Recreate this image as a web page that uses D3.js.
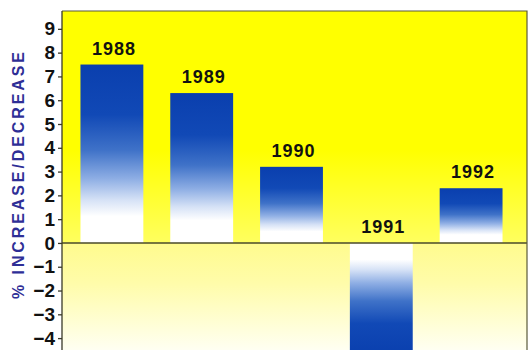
<!DOCTYPE html>
<html>
<head>
<meta charset="utf-8">
<script src="https://cdn.jsdelivr.net/npm/d3@7"></script>
<style>
  html, body { margin: 0; padding: 0; background: #ffffff; }
  svg { display: block; }
</style>
</head>
<body>
<svg id="chart" width="532" height="350"></svg>
<script>
// Annual percentage change, 1988–1992
const years = ["1988", "1989", "1990", "1991", "1992"];
const changes = [7.5, 6.3, 3.2, -4.7, 2.3];
const tickValues = [-4, -3, -2, -1, 0, 1, 2, 3, 4, 5, 6, 7, 8, 9];
const axisTitle = "% INCREASE/DECREASE";

const plot = { left: 62, top: 11, right: 527, bottom: 350 };

const svg = d3.select("#chart");
const defs = svg.append("defs");

const y = d3.scaleLinear().domain([-4.5, 9.75]).range([plot.bottom, plot.top]);
const zeroFrac = (y(0) - plot.top) / (plot.bottom - plot.top);

// Background wash: bright yellow on top, fading to pale cream below zero
const bg = defs.append("linearGradient")
  .attr("id", "bgGrad").attr("x1", 0).attr("y1", 0).attr("x2", 0).attr("y2", 1);
[
  [0, "#ffff00"],
  [zeroFrac * 0.6, "#ffff00"],
  [zeroFrac - 0.002, "#ffff5e"],
  [zeroFrac + 0.002, "#fffb8e"],
  [zeroFrac + 0.12, "#fffcaa"],
  [1, "#fffff2"]
].forEach(([o, c]) => bg.append("stop").attr("offset", o).attr("stop-color", c));

// Bar fills: deep blue at the far end, white at the zero line
function barGradient(id, reversed) {
  const g = defs.append("linearGradient")
    .attr("id", id).attr("x1", 0).attr("y1", reversed ? 1 : 0).attr("x2", 0).attr("y2", reversed ? 0 : 1);
  [
    [0, "#0a3fae"],
    [0.28, "#1149b6"],
    [0.48, "#3f72c8"],
    [0.64, "#8eaee4"],
    [0.76, "#d6e2f6"],
    [0.85, "#ffffff"],
    [1, "#ffffff"]
  ].forEach(([o, c]) => g.append("stop").attr("offset", o).attr("stop-color", c));
}
barGradient("posGrad", false);
barGradient("negGrad", true);

defs.append("clipPath").attr("id", "plotClip")
  .append("rect")
  .attr("x", plot.left).attr("y", plot.top)
  .attr("width", plot.right - plot.left).attr("height", plot.bottom - plot.top);

svg.append("rect")
  .attr("x", plot.left).attr("y", plot.top)
  .attr("width", plot.right - plot.left).attr("height", plot.bottom - plot.top)
  .attr("fill", "url(#bgGrad)");

const x = d3.scaleBand()
  .domain(years)
  .range([67, 516])
  .paddingInner(0.3)
  .paddingOuter(0.15);

const data = years.map((yr, i) => ({ year: yr, value: changes[i] }));

// Bars
svg.append("g").attr("clip-path", "url(#plotClip)")
  .selectAll("rect")
  .data(data)
  .join("rect")
  .attr("x", d => x(d.year))
  .attr("width", x.bandwidth())
  .attr("y", d => y(Math.max(0, d.value)))
  .attr("height", d => Math.abs(y(d.value) - y(0)))
  .attr("fill", d => d.value >= 0 ? "url(#posGrad)" : "url(#negGrad)");

// Zero line
svg.append("line")
  .attr("x1", plot.left).attr("x2", plot.right)
  .attr("y1", y(0)).attr("y2", y(0))
  .attr("stroke", "#4a4a2a").attr("stroke-width", 1.4);

// Frame: top and right edges
svg.append("path")
  .attr("d", `M${plot.left},${plot.top}H${plot.right}V${plot.bottom}`)
  .attr("fill", "none")
  .attr("stroke", "#5a5a3a")
  .attr("stroke-width", 1.2);

// Year labels above the zero line
svg.append("g")
  .selectAll("text")
  .data(data)
  .join("text")
  .attr("x", d => x(d.year) + x.bandwidth() / 2 + 2)
  .attr("y", d => y(Math.max(0, d.value)) - 10)
  .attr("text-anchor", "middle")
  .attr("font-family", "'Liberation Sans', Arial, sans-serif")
  .attr("font-weight", "bold")
  .attr("font-size", 18)
  .attr("letter-spacing", 1)
  .attr("fill", "#111")
  .text(d => d.year);

// Y axis
const yAxis = d3.axisLeft(y)
  .tickValues(tickValues)
  .tickFormat(d3.format("d"))
  .tickSize(4)
  .tickPadding(3);

const gy = svg.append("g")
  .attr("transform", `translate(${plot.left},0)`)
  .call(yAxis);
gy.select(".domain")
  .attr("d", `M0,${plot.top}V${plot.bottom}`)
  .attr("stroke", "#3a3a2a").attr("stroke-width", 1.3);
gy.selectAll(".tick line").attr("stroke", "#3a3a2a").attr("stroke-width", 1.3);
gy.selectAll(".tick text")
  .attr("font-family", "'Liberation Sans', Arial, sans-serif")
  .attr("font-weight", "bold")
  .attr("font-size", 19)
  .attr("fill", "#111");

// Axis title
svg.append("text")
  .attr("transform", `translate(24,${(48 + 300) / 2}) rotate(-90)`)
  .attr("text-anchor", "middle")
  .attr("font-family", "'Liberation Sans', Arial, sans-serif")
  .attr("font-weight", "bold")
  .attr("font-size", 16)
  .attr("letter-spacing", 2.9)
  .attr("fill", "#2e2e96")
  .text(axisTitle);
</script>
</body>
</html>
